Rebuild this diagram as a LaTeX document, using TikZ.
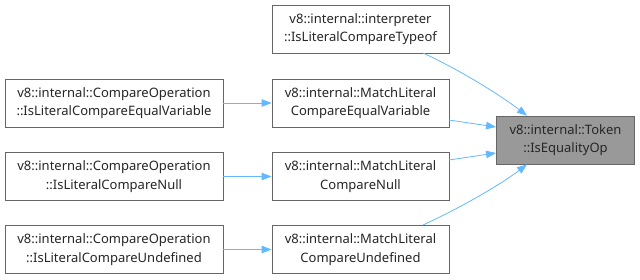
\documentclass[tikz,border=0pt]{standalone}
\usepackage{fontspec}
\setmainfont{Noto Sans}
\usetikzlibrary{arrows.meta}
\definecolor{edgeblue}{HTML}{63B8FF}
\definecolor{boxline}{HTML}{666666}
\definecolor{hilite}{HTML}{999999}
\tikzset{
  fn/.style={draw=boxline, line width=0.8pt, fill=white, align=center,
    inner sep=0pt, font=\fontsize{13}{18.5}\selectfont, text=black!85},
  hl/.style={fn, fill=hilite},
  call/.style={draw=edgeblue, line width=0.8pt, -{Triangle[length=10pt,width=7.5pt]}},
}
\begin{document}
\begin{tikzpicture}[x=1pt,y=-1pt]
\useasboundingbox (0,0) rectangle (640,279);
% callers of the callers
\node[fn, minimum width=218pt, minimum height=48pt] (cev) at (114,103)
  {v8::internal::CompareOperation\\::IsLiteralCompareEqualVariable};
\node[fn, minimum width=218pt, minimum height=48pt] (cnu) at (114,176.5)
  {v8::internal::CompareOperation\\::IsLiteralCompareNull};
\node[fn, minimum width=218pt, minimum height=48pt] (cun) at (114,249.5)
  {v8::internal::CompareOperation\\::IsLiteralCompareUndefined};
% direct callers
\node[fn, minimum width=177pt, minimum height=48pt] (typ) at (360.5,29)
  {v8::internal::interpreter\\::IsLiteralCompareTypeof};
\node[fn, minimum width=177pt, minimum height=48pt] (mev) at (360.5,103)
  {v8::internal::MatchLiteral\\CompareEqualVariable};
\node[fn, minimum width=177pt, minimum height=48pt] (mnu) at (360.5,176.5)
  {v8::internal::MatchLiteral\\CompareNull};
\node[fn, minimum width=177pt, minimum height=48pt] (mun) at (360.5,249.5)
  {v8::internal::MatchLiteral\\CompareUndefined};
% the function itself
\node[hl, minimum width=138pt, minimum height=48pt] (tok) at (565.5,140)
  {v8::internal::Token\\::IsEqualityOp};
% call edges
\draw[call] (cev) -- (mev);
\draw[call] (cnu) -- (mnu);
\draw[call] (cun) -- (mun);
\draw[call] (423,53) .. controls (460,70) and (500,95) .. (tok.north west -| 527,116);
\draw[call] (449,120) -- (tok.west |- 0,127);
\draw[call] (449,160) -- (tok.west |- 0,153);
\draw[call] (423,225) .. controls (460,208) and (500,185) .. (tok.south west -| 527,164);
\end{tikzpicture}
\end{document}
